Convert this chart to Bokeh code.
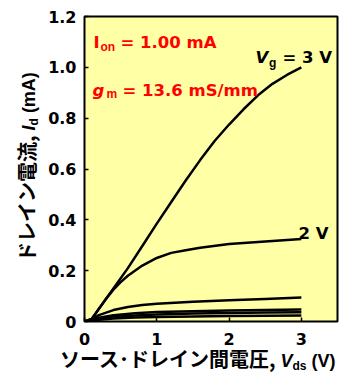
from bokeh.plotting import figure
from bokeh.models import Range1d, Label, FixedTicker, Div
from bokeh.layouts import row, column
from bokeh.embed import file_html
from bokeh.resources import INLINE

# ---- data ----
vds_g3 = [0, 0.1, 0.2, 0.4, 0.6, 0.8, 1.0, 1.2, 1.4, 1.6, 1.8, 2.0, 2.2, 2.4, 2.6, 2.8, 3.0]
id_g3 = [0, 0.01, 0.05, 0.13, 0.21, 0.297, 0.385, 0.47, 0.555, 0.635, 0.71, 0.775, 0.835, 0.89, 0.935, 0.97, 1.0]

vds_g2 = [0, 0.1, 0.2, 0.3, 0.4, 0.5, 0.6, 0.8, 1.0, 1.2, 1.4, 1.6, 2.0, 2.5, 3.0]
id_g2 = [0, 0.01, 0.05, 0.09, 0.125, 0.155, 0.18, 0.22, 0.25, 0.27, 0.28, 0.29, 0.305, 0.315, 0.325]

vds_g1 = [0, 0.1, 0.2, 0.4, 0.6, 0.8, 1.0, 1.5, 2.0, 2.5, 3.0]
id_g1 = [0, 0.008, 0.025, 0.045, 0.057, 0.065, 0.07, 0.078, 0.084, 0.089, 0.094]

vds_low = [0, 0.1, 0.2, 0.4, 0.7, 1.0, 1.5, 2.0, 2.5, 3.0]
id_low_a = [0, 0.005, 0.015, 0.025, 0.032, 0.037, 0.040, 0.043, 0.045, 0.047]
id_low_b = [0, 0.004, 0.010, 0.018, 0.024, 0.028, 0.031, 0.033, 0.035, 0.036]
id_low_c = [0, 0.003, 0.007, 0.012, 0.016, 0.018, 0.020, 0.022, 0.023, 0.024]

x_ticks = [0, 1, 2, 3]
x_tick_labels = ["0", "1", "2", "3"]
y_ticks = [0, 0.2, 0.4, 0.6, 0.8, 1.0, 1.2]
y_tick_labels = ["0", "0.2", "0.4", "0.6", "0.8", "1.0", "1.2"]

x_label_cjk = "ソース･ドレイン間電圧,"
y_label_cjk = "ドレイン電流,"

# ---- layout sizes ----
YW = 44            # width of the column holding the rotated y label
FW, FH = 298, 351  # figure size
XH = 23            # height of the x label strip

p = figure(width=FW, height=FH, x_range=Range1d(0, 3.5), y_range=Range1d(0, 1.2),
           output_backend="svg", toolbar_location=None,
           min_border_left=40, min_border_right=5, min_border_top=16, min_border_bottom=30)
p.background_fill_color = "#FFFFA5"
p.border_fill_color = "white"
p.outline_line_color = "black"
p.outline_line_width = 2
p.grid.visible = False

LAT = "DejaVu Sans"
SUB = "Liberation Sans"
for ax in (p.xaxis[0], p.yaxis[0]):
    ax.axis_line_color = None
    ax.major_tick_in = 4
    ax.major_tick_out = 0
    ax.minor_tick_line_color = None
    ax.major_tick_line_color = "black"
    ax.major_tick_line_width = 1.5
    ax.major_label_text_font = LAT
    ax.major_label_text_font_style = "bold"
    ax.major_label_text_font_size = "16px"
    ax.major_label_text_color = "black"
p.yaxis.major_label_standoff = 8
p.xaxis.major_label_standoff = 11
p.xaxis.ticker = FixedTicker(ticks=x_ticks)
p.yaxis.ticker = FixedTicker(ticks=y_ticks)
p.xaxis.major_label_overrides = {t: s for t, s in zip(x_ticks, x_tick_labels)}
p.yaxis.major_label_overrides = {t: s for t, s in zip(y_ticks, y_tick_labels)}

for xs, ys in [(vds_g3, id_g3), (vds_g2, id_g2), (vds_g1, id_g1),
               (vds_low, id_low_a), (vds_low, id_low_b), (vds_low, id_low_c)]:
    p.line(xs, ys, line_color="black", line_width=2.5, line_join="round")

# screenshot pixel (X, Y) -> data coordinates (frame: x 0 at X=84, y 0 at Y=321)
def dx(X):
    return (X - 84) / 72.3

def dy(Y):
    return (321 - Y) / 254.2

def lab(X, Y, text, font, size, style="bold", color="black"):
    p.add_layout(Label(x=dx(X), y=dy(Y), text=text, text_font=font,
                       text_font_size=size, text_font_style=style,
                       text_color=color, text_align="left", text_baseline="alphabetic"))

RED = "#FF0000"
lab(93, 42, "I", LAT, "16.5px", color=RED)
lab(100, 46, "on", SUB, "12px", color=RED)
lab(120, 42, "= 1.00 mA", LAT, "16.5px", color=RED)
lab(92, 90, "g", LAT, "16.5px", style="bold italic", color=RED)
lab(106, 93, "m", SUB, "12px", color=RED)
lab(122, 90, "= 13.6 mS/mm", LAT, "16.5px", color=RED)

lab(255, 57, "V", LAT, "16.5px", style="bold italic")
lab(268.5, 62, "g", SUB, "12px")
lab(282, 57, "= 3 V", LAT, "16.5px")
lab(298, 233, "2 V", LAT, "16.5px")

# ---- axis labels as HTML (italic symbols with subscripts) ----
CJKF = "font-family:'Noto Sans CJK JP';font-size:20px;"
LATF = "font-family:'Liberation Sans';font-size:18px;"
SUBF = "font-family:'Liberation Sans';font-size:12px;vertical-align:-3px;"

y_html = (
    f'<div style="position:relative;width:{YW}px;height:{FH}px;">'
    '<div style="position:absolute;left:17px;top:262px;transform:rotate(-90deg);'
    'transform-origin:0 0;white-space:nowrap;line-height:20px;font-weight:bold;color:black;">'
    f'<span style="{CJKF}">{y_label_cjk}</span>'
    f'<span style="{LATF}"> <i>I</i></span>'
    f'<span style="{SUBF}">d</span>'
    f'<span style="{LATF}"> (mA)</span>'
    '</div></div>'
)
x_html = (
    f'<div style="position:relative;width:{YW + FW}px;height:{XH}px;">'
    '<div style="position:absolute;left:60px;top:-2px;white-space:nowrap;'
    'line-height:20px;font-weight:bold;color:black;">'
    f'<span style="{CJKF}">{x_label_cjk}</span>'
    f'<span style="{LATF}"> <i>V</i></span>'
    f'<span style="{SUBF}">ds</span>'
    f'<span style="{LATF}"> (V)</span>'
    '</div></div>'
)

ydiv = Div(text=y_html, width=YW, height=FH, margin=0, styles={"overflow": "visible"})
xdiv = Div(text=x_html, width=YW + FW, height=XH, margin=0, styles={"overflow": "visible"})

layout = column(row(ydiv, p, spacing=0), xdiv, spacing=0)

open("out.html", "w").write(file_html(layout, INLINE))
